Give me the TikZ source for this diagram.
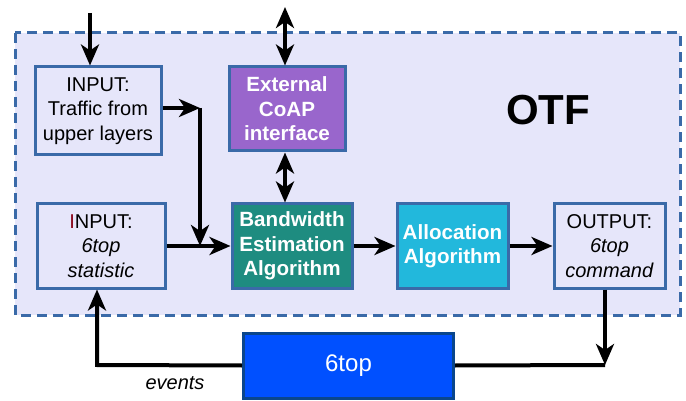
\documentclass[tikz,border=0pt]{standalone}
\usepackage{fontspec}
\setmainfont{Liberation Sans}
\usetikzlibrary{arrows.meta,positioning}

\definecolor{framebg}{HTML}{E6E6FA}
\definecolor{frameline}{HTML}{3A6AA8}
\definecolor{coapfill}{HTML}{9966CC}
\definecolor{bwfill}{HTML}{1E8C80}
\definecolor{allocfill}{HTML}{22B8DC}
\definecolor{sixfill}{HTML}{0050FF}
\definecolor{sixline}{HTML}{0A468C}
\definecolor{darkred}{HTML}{8B0A1E}

\begin{document}
\begin{tikzpicture}[x=0.5pt,y=-0.5pt]
            \tikzstyle{arrow}=[line width=2pt,-{Stealth[length=10.5pt,width=9pt,inset=3pt]}]
            \tikzstyle{darrow}=[line width=2pt,{Stealth[length=10.5pt,width=9pt,inset=3pt]}-{Stealth[length=10.5pt,width=9pt,inset=3pt]}]
            \tikzstyle{plainbox}=[draw=frameline,line width=1.5pt,fill=framebg,align=center,
                font=\fontsize{10}{12.2}\selectfont,inner sep=0pt]
            \tikzstyle{algobox}=[plainbox,text=white,font=\fontsize{10.3}{12.2}\selectfont\bfseries]
            \useasboundingbox (0,0) rectangle (686,401);
            % OTF frame
            \draw[frameline,fill=framebg,line width=1.5pt,dash pattern=on 5pt off 3pt] (15,33) rectangle (680,315);
            \node[font=\fontsize{21}{24}\selectfont\bfseries] (otf) at (548,110) {OTF};
            % inputs
            \node[plainbox,minimum width=63pt,minimum height=44pt] (trafficin) at (98,111)
                {INPUT:\\Traffic from\\upper layers};
            \node[plainbox,minimum width=64pt,minimum height=42pt] (statin) at (101,246)
                {\textcolor{darkred}{I}NPUT:\\\textit{6top}\\\textit{statistic}};
            % algorithms
            \node[algobox,fill=coapfill,minimum width=58pt,minimum height=42pt] (coap) at (287,109)
                {External\\CoAP\\interface};
            \node[algobox,fill=bwfill,minimum width=60pt,minimum height=42pt] (bwest) at (292,246)
                {Bandwidth\\Estimation\\Algorithm};
            \node[algobox,fill=allocfill,minimum width=55.5pt,minimum height=42pt] (alloc) at (452.5,246)
                {Allocation\\Algorithm};
            % output
            \node[plainbox,minimum width=55.5pt,minimum height=42pt] (cmdout) at (609.5,246)
                {OUTPUT:\\\textit{6top}\\\textit{command}};
            % 6top layer
            \node[draw=sixline,fill=sixfill,line width=1.5pt,text=white,minimum width=105pt,
                minimum height=32.5pt,font=\fontsize{12}{14}\selectfont] (sixtop) at (348.5,365.5) {6top};
            % connections
            \coordinate (topin) at (90,13);
            \coordinate (coapext) at (285,7);
            \coordinate (bend) at (200,108);
            \coordinate (outdrop) at (605,365);
            \coordinate (evcorner) at (97,365);
            \draw[arrow] (topin) -- (topin |- trafficin.north);
            \draw[darrow] (coapext) -- (coapext |- coap.north);
            \draw[darrow] (coapext |- coap.south) -- (coapext |- bwest.north);
            \draw[arrow] (trafficin.east |- bend) -- (bend);
            \draw[arrow] (bend) -- (bend |- bwest.west);
            \draw[arrow] (statin.east) -- (bwest.west);
            \draw[arrow] (bwest.east) -- (alloc.west);
            \draw[arrow] (alloc.east) -- (cmdout.west);
            \draw[arrow] (outdrop |- cmdout.south) -- (outdrop);
            \draw[line width=2pt] (sixtop.east) -- (outdrop);
            \draw[arrow] (sixtop.west) -- (evcorner) -- (evcorner |- statin.south);
            \node[font=\fontsize{10}{12}\selectfont\itshape] (events) at (175,383) {events};
        \end{tikzpicture}
\end{document}
